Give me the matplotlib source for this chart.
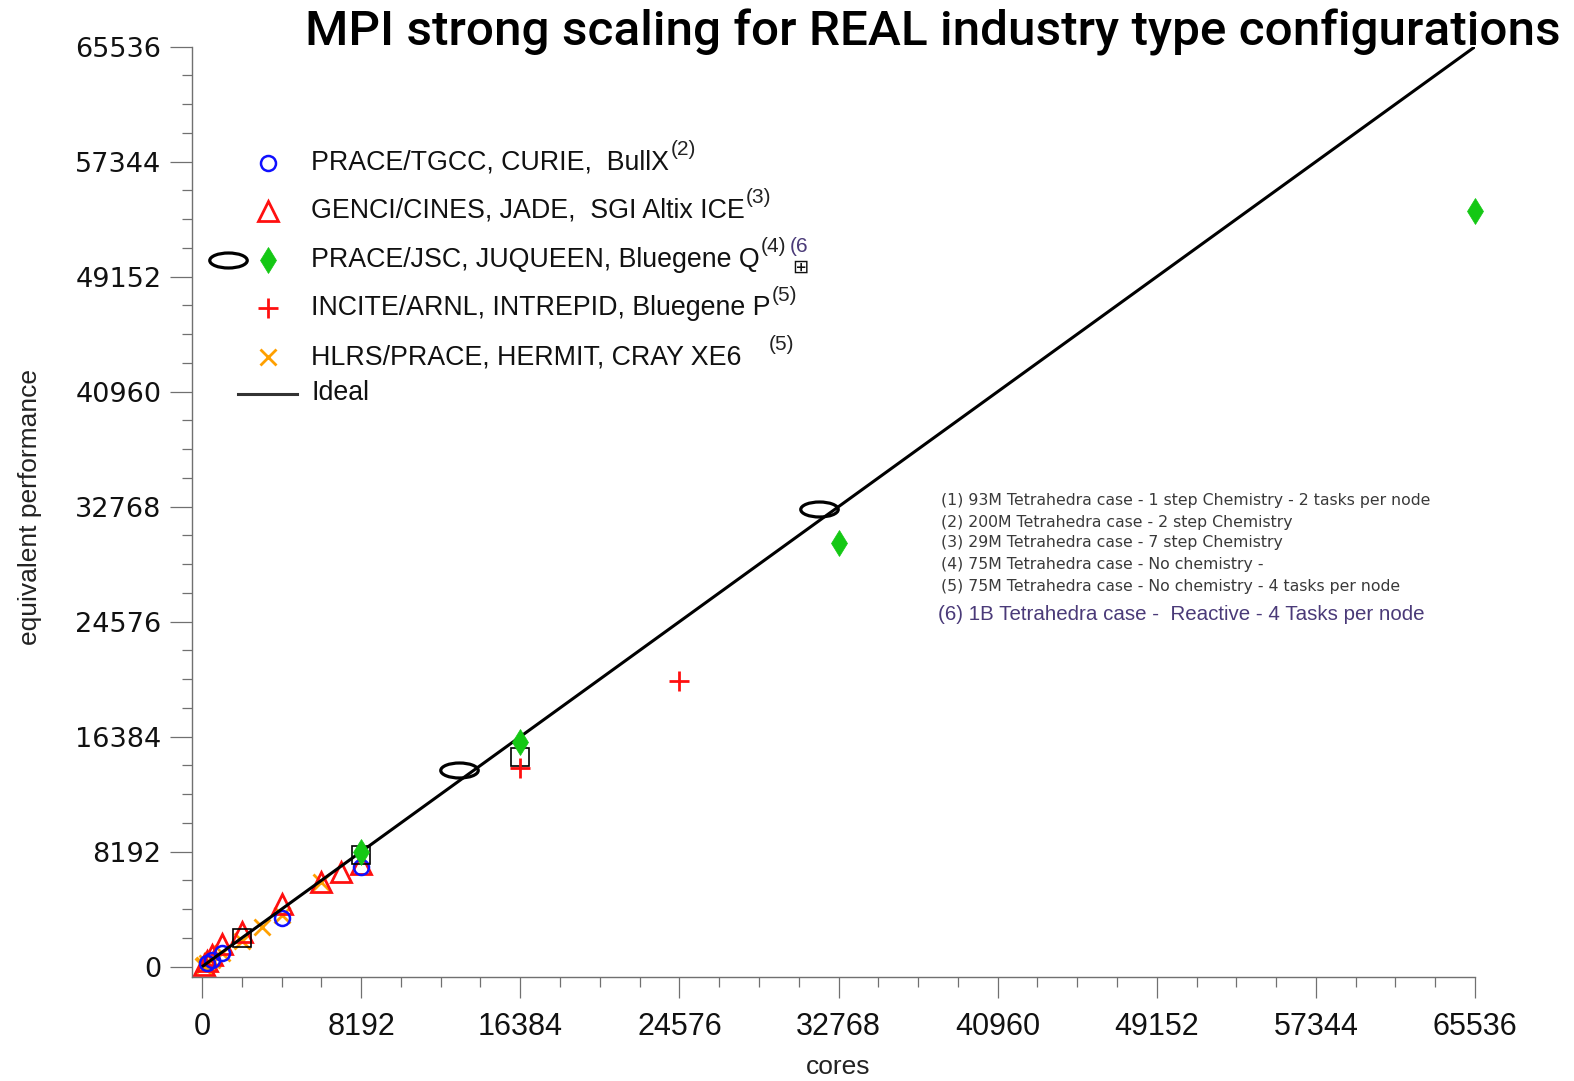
import matplotlib
matplotlib.use('Agg')
import matplotlib.pyplot as plt
import numpy as np
from matplotlib.path import Path

# ---------------- data ----------------
ticks = [0, 8192, 16384, 24576, 32768, 40960, 49152, 57344, 65536]
tick_labels = ["0", "8192", "16384", "24576", "32768", "40960", "49152", "57344", "65536"]

curie_x = [256, 512, 1024, 4096, 8192]
curie_y = [230, 450, 1000, 3500, 7100]

jade_x = [128, 256, 512, 1024, 2048, 4096, 6144, 7168, 8192]
jade_y = [150, 400, 800, 1600, 2500, 4500, 6000, 6750, 7350]

juqueen_x = [8192, 16384, 32768, 65536]
juqueen_y = [8150, 16000, 30150, 53800]

juqueen_ell_x = [13248, 31744]
juqueen_ell_y = [14000, 32600]

boxed_x = [2048, 8192, 16384]
boxed_y = [2020, 7950, 14950]

intrepid_x = [16384, 24576]
intrepid_y = [14130, 20380]

hermit_x = [64, 128, 256, 512, 1024, 2048, 3072, 4096, 6144]
hermit_y = [60, 130, 250, 500, 1000, 1850, 2850, 3700, 6000]

ideal_x = [0, 65536]
ideal_y = [0, 65536]

legend_labels = [
    "PRACE/TGCC, CURIE,  BullX",
    "GENCI/CINES, JADE,  SGI Altix ICE",
    "PRACE/JSC, JUQUEEN, Bluegene Q",
    "INCITE/ARNL, INTREPID, Bluegene P",
    "HLRS/PRACE, HERMIT, CRAY XE6",
    "Ideal",
]
notes = [
    "(1) 93M Tetrahedra case - 1 step Chemistry - 2 tasks per node",
    "(2) 200M Tetrahedra case - 2 step Chemistry",
    "(3) 29M Tetrahedra case - 7 step Chemistry",
    "(4) 75M Tetrahedra case - No chemistry -",
    "(5) 75M Tetrahedra case - No chemistry - 4 tasks per node",
]
note6 = "(6) 1B Tetrahedra case -  Reactive - 4 Tasks per node"
title = "MPI strong scaling for REAL industry type configurations"

# ---------------- styles ----------------
W, H, DPI = 1574, 1081, 100
fig = plt.figure(figsize=(W / DPI, H / DPI), dpi=DPI)

L, R, T, B = 192, 1475, 46.7, 977
ax = fig.add_axes([L / W, 1 - B / H, (R - L) / W, (B - T) / H])

x0 = -(202 - L) / ((R - 202) / 65536.0)
y0 = -(B - 966.7) / ((966.7 - T) / 65536.0)
ax.set_xlim(x0, 65536)
ax.set_ylim(y0, 65536)

ell = Path.unit_circle()
ell_path = Path(ell.vertices * np.array([1.0, 0.40]), ell.codes)

BLUE = '#1010ff'
RED = '#ff1010'
GREEN = '#14c814'
ORANGE = '#ffa000'

sty_curie = dict(marker='o', ls='none', ms=10.8, mfc='none', mec=BLUE, mew=1.8)
sty_jade = dict(marker='^', ls='none', ms=15, mfc='none', mec=RED, mew=2.0)
sty_juq = dict(marker='d', ls='none', ms=13, mfc=GREEN, mec=GREEN, mew=0.5)
sty_ell = dict(marker=ell_path, ls='none', ms=27, mfc='none', mec='black', mew=2.3)
sty_box = dict(marker='s', ls='none', ms=13, mfc='none', mec='black', mew=1.2)
sty_int = dict(marker='+', ls='none', ms=14, mec=RED, mew=2.0)
sty_her = dict(marker='x', ls='none', ms=12, mec=ORANGE, mew=2.0)

ax.plot(hermit_x, hermit_y, zorder=2, clip_on=False, **sty_her)
ax.plot(jade_x, jade_y, zorder=2, clip_on=False, **sty_jade)
ax.plot(curie_x, curie_y, zorder=2, clip_on=False, **sty_curie)
ax.plot(ideal_x, ideal_y, color='black', lw=2.2, zorder=3, solid_capstyle='butt')
ax.plot(boxed_x, boxed_y, zorder=4, clip_on=False, **sty_box)
ax.plot(intrepid_x, intrepid_y, zorder=4, clip_on=False, **sty_int)
ax.plot(juqueen_x, juqueen_y, zorder=5, clip_on=False, **sty_juq)
ax.plot(juqueen_ell_x, juqueen_ell_y, zorder=5, clip_on=False, **sty_ell)

# ---------------- axes styling ----------------
for s in ['top', 'right']:
    ax.spines[s].set_visible(False)
for s in ['left', 'bottom']:
    ax.spines[s].set_color('#707070')
    ax.spines[s].set_linewidth(1.0)

ax.set_xticks(ticks, tick_labels, fontfamily='Liberation Sans', fontsize=22, color='#111111')
ax.set_yticks(ticks, tick_labels, fontfamily='DejaVu Sans', fontsize=19.5, color='#111111')
ax.set_xticks(np.arange(0, 65537, 2048), minor=True)
ax.set_yticks(np.arange(0, 65537, 2048), minor=True)
ax.tick_params(axis='x', which='major', length=15, width=0.9, color='#707070', pad=10.5)
ax.tick_params(axis='y', which='major', length=15.5, width=0.9, color='#707070', pad=6.5)
ax.tick_params(which='minor', length=7, width=0.9, color='#707070')

ax.set_xlabel('cores', fontfamily='Liberation Sans', fontsize=19, color='#222222', va='center')
ax.xaxis.set_label_coords(0.5035, (B - 1067) / (B - T))
ax.set_ylabel('equivalent performance', fontfamily='Liberation Sans', fontsize=19,
              color='#222222', va='center')
ax.yaxis.set_label_coords((30 - L) / (R - L), (B - 507) / (B - T))

renderer = fig.canvas.get_renderer()


def fit(txt, target_px):
    bb = txt.get_window_extent(renderer)
    txt.set_fontsize(txt.get_fontsize() * target_px / bb.width)


def fx(px):
    return px / W


def fy(py):
    return 1 - py / H


# ---------------- title ----------------
t = fig.text(fx(1561), fy(46), title, ha='right', va='baseline',
             fontfamily='Roboto', fontweight='medium', fontsize=30, color='black')
fit(t, 1252)

# ---------------- legend (manual) ----------------
mx = 268
tx = 311
rows_y = [162.6, 210.8, 260, 308.2, 357.4, 393.5]
kw = dict(transform=fig.transFigure, clip_on=False, zorder=6)
ax.plot([fx(mx)], [fy(rows_y[0])], **kw, **sty_curie)
ax.plot([fx(mx)], [fy(rows_y[1])], **kw, **sty_jade)
ax.plot([fx(228)], [fy(rows_y[2])], **kw, **sty_ell)
ax.plot([fx(mx)], [fy(rows_y[2])], **kw, **sty_juq)
ax.plot([fx(mx)], [fy(rows_y[3])], **kw, **sty_int)
ax.plot([fx(mx)], [fy(rows_y[4])], **kw, **sty_her)
ax.plot([fx(238), fx(297)], [fy(rows_y[5]), fy(rows_y[5])], color='#333333', lw=2.2, **kw)

leg_texts = []
for lab, yy in zip(legend_labels, rows_y):
    tt = fig.text(fx(tx), fy(yy), lab, ha='left', va='center',
                  fontfamily='Liberation Sans', fontsize=19.3, color='#111111')
    leg_texts.append(tt)

sup_kw = dict(textcoords='offset points', ha='left', va='center',
              fontfamily='Liberation Sans', fontsize=15, color='#222222')
ax.annotate('(2)', xy=(1, 1), xycoords=leg_texts[0], xytext=(1, 0), **sup_kw)
ax.annotate('(3)', xy=(1, 1), xycoords=leg_texts[1], xytext=(1, 0), **sup_kw)
a4 = ax.annotate('(4)', xy=(1, 1), xycoords=leg_texts[2], xytext=(1, 0), **sup_kw)
a6 = ax.annotate('(6', xy=(1, 0.5), xycoords=a4, xytext=(2, 0),
                 **{**sup_kw, 'color': '#4a3a78'})
ax.annotate('\u229e', xy=(0.6, 0), xycoords=a6, xytext=(0, -1), textcoords='offset points',
            ha='center', va='top', fontfamily='DejaVu Sans', fontsize=14, color='#111111')
ax.annotate('(5)', xy=(1, 1), xycoords=leg_texts[3], xytext=(1, 0), **sup_kw)
ax.annotate('(5)', xy=(1, 1), xycoords=leg_texts[4], xytext=(20, 0), **sup_kw)

# ---------------- notes ----------------
notes_y = [500, 522, 543, 565, 586]
nt = []
for s, yy in zip(notes, notes_y):
    n = fig.text(fx(941), fy(yy), s, ha='left', va='center',
                 fontfamily='DejaVu Sans', fontsize=10.5, color='#3a3a3a')
    nt.append(n)
fit(nt[0], 492)
for n in nt[1:]:
    n.set_fontsize(nt[0].get_fontsize())
n6 = fig.text(fx(938.5), fy(615), note6, ha='left', va='center',
              fontfamily='Liberation Sans', fontsize=13, color='#4a3a78')
fit(n6, 484)

fig.savefig('out.png', dpi=DPI, facecolor='white')
